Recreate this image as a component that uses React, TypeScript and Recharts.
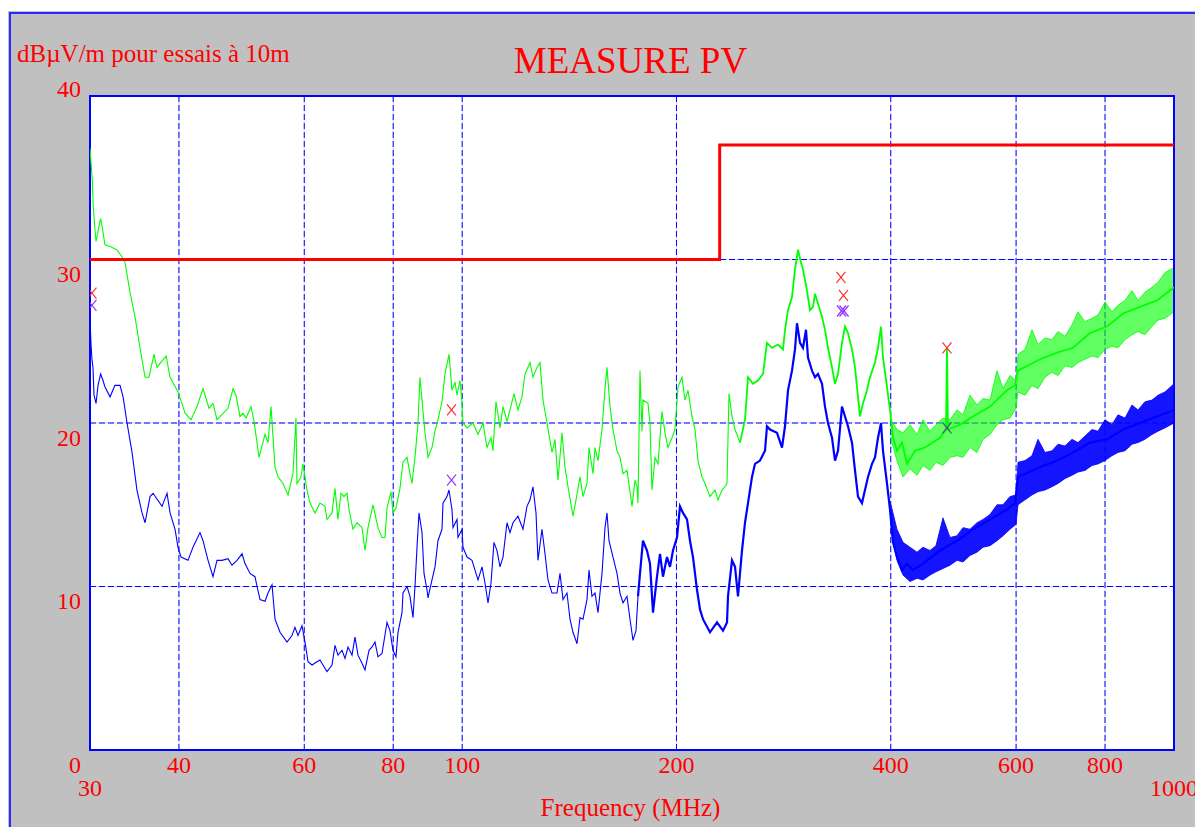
import React from "react";
import {
  ComposedChart,
  Line,
  Area,
  Scatter,
  XAxis,
  YAxis,
  CartesianGrid,
  ReferenceArea,
} from "recharts";

// ---------- axes ----------
const freqTicks = [30, 40, 60, 80, 100, 200, 400, 600, 800, 1000];
const levelTicks = [0, 10, 20, 30, 40];

// ---------- limit line (dBµV/m) ----------
const limitFreq = [30, 230, 230, 1000];
const limitLevel = [30, 30, 37, 37];

// ---------- green trace (peak) ----------
const greenFreq = [
  30.0, 30.22, 30.32, 30.49, 30.59, 30.81, 31.05, 31.26, 31.49, 32.01,
  32.71, 33.24, 33.6, 34.14, 34.7, 35.27, 35.85, 36.31, 36.9, 37.26,
  38.37, 38.87, 39.88, 40.8, 41.59, 42.41, 43.24, 44.09, 44.66, 45.24,
  46.88, 47.65, 48.11, 48.74, 49.22, 49.7, 50.51, 51.0, 51.83, 52.85,
  53.36, 53.88, 54.58, 55.12, 56.01, 56.93, 57.85, 58.41, 58.6, 59.37,
  59.75, 60.53, 61.12, 62.12, 63.13, 64.16, 64.58, 65.63, 66.27, 66.91,
  67.57, 68.23, 68.89, 69.34, 70.24, 71.16, 72.32, 73.02, 73.74, 74.94,
  76.16, 77.15, 77.91, 78.41, 79.43, 79.94, 80.72, 81.77, 82.57, 83.65,
  84.46, 85.01, 85.84, 86.68, 87.24, 87.81, 88.66, 89.53, 90.69, 91.58,
  92.47, 93.67, 94.59, 95.82, 96.75, 97.7, 98.33, 99.29, 99.94, 100.26,
  101.57, 103.56, 105.25, 106.96, 108.36, 109.76, 110.48, 111.55, 113.01, 114.11,
  115.6, 116.72, 118.24, 119.78, 121.34, 122.53, 124.53, 125.74, 127.38, 128.62,
  129.87, 131.57, 133.71, 135.02, 136.33, 138.11, 139.45, 140.82, 143.11, 144.51,
  146.39, 147.82, 149.74, 150.72, 152.67, 153.67, 155.16, 157.19, 158.72, 159.75,
  161.31, 162.88, 165.0, 166.61, 168.24, 170.43, 173.21, 174.9, 176.03, 176.6,
  177.74, 178.89, 179.47, 182.4, 183.58, 184.78, 186.58, 188.4, 190.85, 192.71,
  194.59, 197.13, 199.05, 200.99, 203.61, 205.6, 207.6, 210.31, 212.36, 214.43,
  217.22, 219.34, 222.92, 226.55, 228.76, 231.74, 234.0, 235.52, 237.05, 239.36,
  241.7, 245.63, 249.64, 252.07, 256.18, 260.36, 264.61, 268.05, 272.42, 277.76,
  282.29, 284.12, 286.89, 290.62, 293.46, 296.32, 299.21, 301.15, 305.08, 308.05,
  311.06, 313.07, 316.13, 320.25, 323.37, 326.52, 330.78, 334.0, 337.26, 341.64,
  344.98, 348.34, 352.88, 356.32, 359.8, 362.13, 365.65, 370.42, 374.04, 380.14,
  383.85, 387.59, 390.11, 395.19, 399.03, 402.92, 408.17, 414.83, 421.59, 432.64,
  446.87, 469.08, 478.27, 479.82, 481.38, 500.44, 521.94, 551.43, 582.61, 597.88,
  603.72, 648.24, 684.89, 721.29, 762.04, 805.13, 847.91, 895.82, 946.47, 1000,
];
const greenLevel = [
  36.8, 34.9, 33.2, 31.8, 31.1, 31.8, 32.5, 31.8, 30.9, 30.8,
  30.6, 30.2, 29.8, 28.0, 26.5, 24.6, 22.8, 22.8, 24.2, 23.4,
  24.1, 22.8, 21.9, 20.6, 20.2, 21.0, 22.1, 20.9, 21.2, 20.2,
  20.9, 22.1, 21.7, 20.4, 20.6, 20.3, 21.0, 20.1, 17.9, 19.3,
  18.8, 21.0, 17.3, 16.7, 16.3, 15.6, 16.9, 20.3, 16.3, 16.7,
  17.5, 15.9, 15.1, 14.5, 15.1, 14.9, 14.1, 14.5, 16.0, 14.1,
  15.7, 15.5, 15.7, 14.7, 13.5, 13.9, 13.6, 12.2, 13.6, 15.0,
  13.6, 13.0, 13.0, 14.8, 15.8, 14.5, 14.8, 16.0, 17.6, 17.9,
  16.9, 16.3, 17.9, 20.0, 22.8, 21.4, 19.4, 17.9, 18.5, 19.5,
  20.2, 21.3, 23.0, 24.2, 22.0, 22.5, 21.7, 22.6, 21.2, 20.0,
  19.7, 20.0, 19.3, 20.0, 18.5, 19.1, 18.3, 21.3, 19.7, 21.0,
  20.1, 20.8, 21.8, 20.8, 21.6, 23.0, 23.7, 22.8, 23.4, 23.7,
  21.4, 20.0, 18.2, 19.0, 16.5, 19.4, 17.3, 16.1, 14.3, 15.3,
  16.7, 15.5, 16.3, 18.5, 16.9, 18.5, 17.7, 19.6, 22.1, 23.4,
  21.0, 19.6, 18.3, 17.9, 16.9, 17.1, 14.9, 16.5, 16.1, 15.1,
  23.2, 19.5, 21.4, 21.2, 20.0, 15.9, 17.9, 17.5, 20.7, 19.4,
  18.5, 19.1, 19.6, 22.2, 22.8, 21.4, 22.0, 20.4, 19.6, 17.7,
  16.7, 16.3, 15.5, 15.9, 15.3, 15.9, 16.1, 16.3, 21.8, 20.4,
  19.6, 18.8, 20.2, 22.8, 22.4, 22.6, 23.0, 24.9, 24.6, 24.8,
  24.5, 25.7, 26.9, 27.7, 29.4, 30.6, 29.8, 29.4, 28.1, 26.9,
  27.1, 27.9, 27.3, 26.5, 25.7, 24.6, 23.4, 22.4, 23.0, 24.9,
  25.9, 25.5, 24.5, 23.4, 21.6, 20.4, 21.2, 22.0, 22.8, 23.7,
  24.6, 25.9, 24.0, 22.2, 20.8, 19.1, 18.3, 18.8, 17.5, 18.3,
  18.5, 19.1, 19.6, 24.6, 19.6, 19.9, 20.4, 21.0, 22.0, 22.3,
  23.2, 23.9, 24.3, 24.6, 25.5, 25.9, 26.7, 27.1, 27.5, 28.3,
];

// ---------- blue trace ----------
const blueFreq = [
  30.0, 30.1, 30.19, 30.29, 30.39, 30.59, 30.79, 31.05, 31.29, 31.49,
  32.01, 32.52, 33.06, 33.39, 33.82, 34.37, 34.92, 35.5, 35.85, 36.43,
  36.79, 37.87, 38.49, 38.87, 39.5, 39.88, 40.27, 41.19, 41.86, 42.82,
  43.24, 43.95, 44.66, 45.24, 45.98, 46.88, 47.49, 48.27, 49.06, 49.53,
  50.34, 51.16, 51.5, 52.0, 52.85, 53.36, 54.06, 54.58, 55.47, 56.74,
  57.66, 58.22, 58.79, 59.56, 60.14, 60.73, 61.52, 62.52, 63.13, 63.74,
  64.58, 65.63, 66.27, 66.91, 67.79, 68.45, 69.12, 70.02, 70.7, 71.39,
  72.32, 73.02, 73.98, 74.7, 75.42, 76.16, 77.15, 78.41, 79.17, 79.94,
  80.72, 81.25, 82.31, 82.57, 83.65, 84.46, 85.29, 85.84, 86.4, 86.96,
  87.81, 88.38, 89.24, 89.53, 90.69, 91.58, 92.47, 93.67, 93.98, 95.2,
  95.82, 96.75, 97.07, 98.33, 98.65, 99.94, 100.26, 101.57, 103.22, 104.23,
  105.25, 106.62, 107.66, 108.71, 109.76, 110.83, 111.92, 113.01, 114.11, 115.6,
  116.72, 117.86, 119.78, 121.74, 123.32, 124.53, 125.74, 126.97, 127.79, 129.45,
  130.72, 131.99, 133.71, 135.89, 137.22, 138.56, 140.36, 141.73, 143.11, 144.98,
  146.39, 147.82, 149.74, 150.72, 152.18, 153.67, 155.16, 157.19, 158.72, 159.75,
  160.79, 162.88, 165.0, 166.61, 168.24, 170.43, 172.09, 173.77, 175.46, 176.6,
  177.74, 179.47, 181.81, 183.58, 185.38, 187.79, 189.62, 191.47, 193.96, 195.86,
  197.77, 200.34, 202.3, 204.27, 206.93, 208.95, 210.99, 213.74, 215.82, 217.92,
  222.92, 228.02, 232.49, 235.52, 236.28, 239.36, 241.7, 244.05, 247.22, 249.64,
  252.07, 255.35, 257.84, 262.05, 266.32, 268.05, 270.67, 276.87, 281.38, 284.12,
  286.89, 290.62, 293.46, 295.36, 298.24, 301.15, 304.09, 306.07, 310.05, 313.07,
  316.13, 320.25, 323.37, 326.52, 330.78, 334.0, 337.26, 341.64, 344.98, 348.34,
  352.88, 356.32, 359.8, 364.48, 368.03, 371.63, 376.47, 380.14, 383.85, 387.59,
  390.11, 395.19, 399.03, 402.92, 408.17, 414.83, 421.59, 429.86, 443.99, 469.08,
  495.6, 521.94, 551.43, 582.61, 597.88, 603.72, 648.24, 684.89, 721.29, 762.04,
  805.13, 847.91, 895.82, 946.47, 1000,
];
const blueLevel = [
  26.4, 24.8, 23.9, 23.4, 21.7, 21.2, 22.3, 23.0, 22.6, 22.2,
  21.6, 22.3, 22.3, 21.6, 20.0, 18.2, 15.9, 14.5, 13.9, 15.5,
  15.7, 14.9, 15.7, 14.5, 13.5, 12.4, 11.8, 11.6, 12.4, 13.3,
  12.8, 11.6, 10.6, 11.6, 11.6, 11.7, 11.3, 11.6, 12.0, 11.4,
  10.8, 10.6, 10.0, 9.2, 9.1, 9.6, 10.1, 8.0, 7.2, 6.6,
  7.0, 7.5, 7.0, 7.6, 6.6, 5.4, 5.2, 5.4, 5.5, 5.2,
  4.8, 5.2, 6.4, 5.8, 6.1, 5.6, 6.3, 5.8, 6.9, 5.8,
  5.3, 4.9, 6.1, 6.3, 6.6, 5.7, 5.9, 7.8, 7.3, 6.1,
  5.7, 7.2, 8.4, 9.6, 10.0, 9.4, 8.1, 10.0, 12.4, 14.5,
  13.3, 10.8, 9.8, 9.3, 10.4, 11.2, 12.8, 13.5, 15.1, 15.5,
  15.9, 14.7, 13.6, 14.1, 13.0, 13.5, 12.4, 11.8, 11.6, 11.0,
  10.4, 11.2, 10.2, 9.0, 10.2, 12.7, 12.2, 11.2, 11.8, 13.9,
  13.3, 13.9, 14.3, 13.5, 14.9, 15.3, 16.1, 14.5, 11.6, 13.5,
  12.0, 10.4, 9.6, 9.6, 10.8, 9.2, 9.6, 8.0, 7.2, 6.5,
  8.1, 8.0, 9.2, 11.0, 9.4, 9.6, 8.4, 10.8, 13.6, 14.5,
  12.8, 11.8, 10.8, 9.6, 9.0, 9.4, 8.0, 6.7, 7.3, 9.4,
  10.8, 12.8, 12.2, 11.4, 8.4, 10.6, 12.0, 10.6, 11.8, 11.2,
  12.2, 13.0, 14.9, 14.5, 14.1, 12.8, 11.8, 9.8, 8.6, 8.0,
  7.2, 7.8, 7.3, 7.8, 9.4, 11.6, 11.2, 9.4, 12.2, 13.9,
  15.1, 16.7, 17.5, 17.7, 18.3, 19.8, 19.6, 19.4, 18.5, 19.8,
  22.0, 23.2, 24.5, 26.1, 24.9, 24.6, 25.7, 24.0, 23.2, 22.8,
  23.0, 22.4, 21.0, 20.0, 19.1, 17.7, 18.3, 21.0, 20.4, 19.8,
  18.8, 17.1, 15.5, 15.1, 15.9, 16.7, 17.5, 17.9, 19.1, 20.0,
  18.3, 16.3, 14.7, 12.7, 11.8, 11.0, 11.4, 11.0, 11.4, 12.2,
  12.8, 13.5, 14.1, 14.7, 15.1, 16.7, 17.3, 17.7, 18.2, 18.8,
  19.0, 19.6, 20.0, 20.4, 20.8,
];

// ---------- noise bands above 400 MHz (upper / lower envelopes) ----------
const bandFreq = [
  400.3, 408.17, 416.17, 425.71, 435.45, 443.99, 454.16, 463.06, 473.65, 484.5,
  495.6, 505.32, 516.89, 528.73, 539.09, 551.43, 564.06, 575.12, 588.29, 599.82,
  603.72, 617.55, 631.69, 644.07, 658.81, 673.9, 687.12, 702.85, 718.95, 733.04,
  749.83, 766.99, 782.02, 799.94, 818.26, 834.3, 853.41, 872.96, 890.07, 910.43,
  931.29, 949.54, 971.28, 1000,
];
const greenBandHigh = [
  20.2, 19.6, 19.4, 19.9, 19.3, 20.2, 19.5, 19.9, 20.3, 20.2,
  20.8, 20.5, 21.7, 21.1, 21.5, 21.4, 23.2, 22.1, 22.9, 22.6,
  24.2, 24.5, 25.7, 24.8, 25.2, 25.1, 25.6, 25.3, 26.0, 26.8,
  26.2, 26.4, 26.6, 27.4, 26.8, 27.2, 27.5, 28.1, 27.5, 28.0,
  28.3, 28.6, 29.2, 29.5,
];
const greenBandLow = [
  19.0, 17.7, 16.7, 17.2, 16.8, 17.4, 17.1, 17.6, 17.4, 17.9,
  18.0, 17.9, 18.5, 18.2, 19.0, 19.3, 19.9, 20.2, 20.3, 20.9,
  21.9, 21.7, 22.3, 22.1, 22.8, 23.1, 22.9, 23.5, 23.4, 23.7,
  23.9, 24.1, 24.0, 24.5, 24.7, 24.6, 25.1, 25.4, 25.6, 25.4,
  25.9, 26.3, 26.4, 26.8,
];
const blueBandHigh = [
  15.0, 13.5, 12.7, 12.4, 12.1, 12.4, 12.2, 12.5, 14.2, 13.0,
  13.1, 13.6, 13.5, 13.9, 14.1, 14.4, 15.0, 15.0, 15.5, 15.6,
  17.6, 17.7, 18.0, 19.0, 18.2, 18.3, 18.7, 18.6, 19.0, 18.8,
  19.2, 19.6, 19.5, 20.2, 19.9, 20.5, 20.3, 21.1, 20.8, 21.3,
  21.4, 21.7, 21.9, 22.4,
];
const blueBandLow = [
  13.5, 11.6, 10.7, 10.3, 10.5, 10.4, 10.7, 10.9, 11.1, 11.3,
  11.6, 11.5, 11.9, 12.1, 12.4, 12.5, 12.8, 13.1, 13.5, 13.8,
  15.0, 15.3, 15.6, 15.8, 15.9, 16.1, 16.3, 16.6, 16.8, 17.0,
  17.1, 17.4, 17.5, 17.7, 18.0, 18.2, 18.3, 18.7, 18.8, 19.0,
  19.3, 19.5, 19.7, 20.0,
];

// ---------- markers ----------
const redMarkFreq = [30.19, 96.6, 340.5, 343.3, 479.8];
const redMarkLevel = [27.95, 20.8, 28.9, 27.8, 24.6];
const purpleMarkFreq = [30.19, 96.6, 341.1, 343.9];
const purpleMarkLevel = [27.2, 16.5, 26.85, 26.85];
const darkMarkFreq = [479.8];
const darkMarkLevel = [19.7];

// ---------- build tables ----------
const zip = (fs: number[], vs: number[]) => fs.map((f, i) => ({ f, v: vs[i] }));
const limitData = zip(limitFreq, limitLevel);
const greenData = zip(greenFreq, greenLevel);
const blueData = zip(blueFreq, blueLevel);
const greenLow = greenData.filter((p) => p.f <= 245.63);
const greenHigh = greenData.filter((p) => p.f >= 245.63);
const blueLow = blueData.filter((p) => p.f <= 176.6);
const blueHigh = blueData.filter((p) => p.f >= 176.6);
const greenBand = bandFreq.map((f, i) => ({ f, band: [greenBandLow[i], greenBandHigh[i]] }));
const blueBand = bandFreq.map((f, i) => ({ f, band: [blueBandLow[i], blueBandHigh[i]] }));
const redMarks = zip(redMarkFreq, redMarkLevel);
const purpleMarks = zip(purpleMarkFreq, purpleMarkLevel);
const darkMarks = zip(darkMarkFreq, darkMarkLevel);

const FONT = "'Liberation Serif', 'Times New Roman', serif";
const RED = "#ff0000";

const cross = (color: string) => (props: any) => {
  const { cx, cy } = props;
  if (cx == null || cy == null) return <g />;
  return (
    <g>
      <line x1={cx - 4.5} y1={cy - 5.5} x2={cx + 4.5} y2={cy + 5.5} stroke={color} strokeWidth={1.2} />
      <line x1={cx - 4.5} y1={cy + 5.5} x2={cx + 4.5} y2={cy - 5.5} stroke={color} strokeWidth={1.2} />
    </g>
  );
};

const XTick = (props: any) => {
  const { x, payload } = props;
  const v = payload.value;
  const low = v === 30 || v === 1000;
  return (
    <text x={x} y={low ? 788 : 765} textAnchor="middle" fill={RED} fontSize={24} fontFamily={FONT}>
      {v}
    </text>
  );
};

const YTick = (props: any) => {
  const { y, payload } = props;
  const v = payload.value;
  return (
    <text x={73} y={v === 40 ? y + 1 : y + 22.5} textAnchor="end" fill={RED} fontSize={24} fontFamily={FONT}>
      {v}
    </text>
  );
};

export default function App() {
  return (
    <div style={{ position: "relative", width: 1195, height: 819, background: "#ffffff", overflow: "hidden" }}>
      <div style={{ position: "absolute", left: 0, top: 3, width: 1195, height: 816, background: "#c0c0c0" }} />
      <div
        style={{
          position: "absolute",
          left: 1,
          top: 4,
          width: 1194,
          height: 815,
          borderTop: "2px solid #2a2aff",
          borderLeft: "2px solid #2a2aff",
          boxSizing: "border-box",
        }}
      />
      <div style={{ position: "absolute", left: 0, top: 0 }}>
        <ComposedChart width={1195} height={819} margin={{ top: 88, right: 29, bottom: 57, left: 62 }}>
          <CartesianGrid stroke="#d8d8f0" fill="#ffffff" fillOpacity={1} />
          <CartesianGrid stroke="#0000ff" strokeDasharray="6 3" />
          <XAxis
            dataKey="f"
            type="number"
            scale="log"
            domain={[30, 1000]}
            ticks={freqTicks}
            interval={0}
            allowDataOverflow
            axisLine={false}
            tickLine={false}
            height={20}
            tick={<XTick />}
          />
          <YAxis
            type="number"
            domain={[0, 40]}
            ticks={levelTicks}
            interval={0}
            allowDataOverflow
            axisLine={false}
            tickLine={false}
            width={20}
            tick={<YTick />}
          />
          <Area data={greenBand} dataKey="band" type="linear" stroke="#00ff00" strokeWidth={0.8} fill="#00ff00" fillOpacity={0.62} isAnimationActive={false} />
          <Line data={greenLow} dataKey="v" type="linear" stroke="#00ff00" strokeWidth={1.1} dot={false} activeDot={false} isAnimationActive={false} />
          <Line data={greenHigh} dataKey="v" type="linear" stroke="#00ff00" strokeWidth={1.8} dot={false} activeDot={false} isAnimationActive={false} />
          <Area data={blueBand} dataKey="band" type="linear" stroke="#0000ff" strokeWidth={0.8} fill="#0000ff" fillOpacity={0.92} isAnimationActive={false} />
          <Line data={blueLow} dataKey="v" type="linear" stroke="#0000ff" strokeWidth={1.1} dot={false} activeDot={false} isAnimationActive={false} />
          <Line data={blueHigh} dataKey="v" type="linear" stroke="#0000ff" strokeWidth={2.2} dot={false} activeDot={false} isAnimationActive={false} />
          <Line data={limitData} dataKey="v" type="linear" stroke="#ff0000" strokeWidth={3} dot={false} activeDot={false} isAnimationActive={false} />
          <Scatter data={redMarks} dataKey="v" shape={cross("#ff3030")} isAnimationActive={false} />
          <Scatter data={purpleMarks} dataKey="v" shape={cross("#9933ff")} isAnimationActive={false} />
          <Scatter data={darkMarks} dataKey="v" shape={cross("#5a4a9a")} isAnimationActive={false} />
          <ReferenceArea x1={30} x2={1000} y1={0} y2={40} fill="none" fillOpacity={0} stroke="#0000ff" strokeWidth={2} ifOverflow="visible" />
        </ComposedChart>
      </div>
      <svg width={1195} height={819} style={{ position: "absolute", left: 0, top: 0, pointerEvents: "none" }}>
        <text x={9} y={54} fill={RED} fontSize={25} fontFamily={FONT}>
          dBµV/m pour essais à 10m
        </text>
        <text x={622.5} y={65} fill={RED} fontSize={37} fontFamily={FONT} textAnchor="middle">
          MEASURE PV
        </text>
        <text x={622.5} y={808} fill={RED} fontSize={25} fontFamily={FONT} textAnchor="middle">
          Frequency (MHz)
        </text>
      </svg>
    </div>
  );
}
